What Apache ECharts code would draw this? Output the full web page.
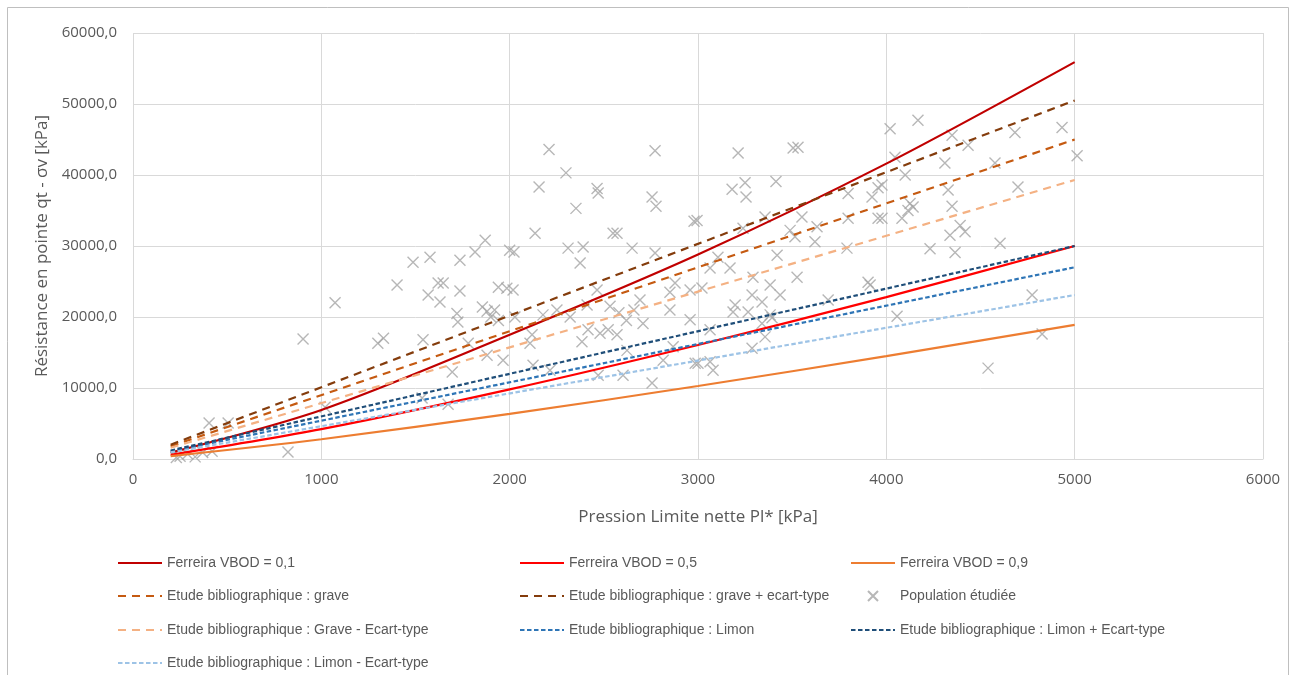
<!DOCTYPE html>
<html><head><meta charset="utf-8">
<script src="https://cdn.jsdelivr.net/npm/echarts@6/dist/echarts.min.js"></script>
<style>html,body{margin:0;padding:0;background:#fff}#c{width:1295px;height:675px}</style>
</head><body><div id="c"></div>
<script>
// Ferreira curves (x in kPa, y in kPa)
const ferX = [200, 1000, 2000, 3000, 4000, 5000];
const fer01 = [900, 6900, 17500, 28800, 41600, 55900];
const fer05 = [580, 4200, 9800, 16050, 22800, 30000];
const fer09 = [410, 2780, 6350, 10280, 14500, 18900];
// Bibliographic straight lines
const bibX = [200, 5000];
const grave = [1800, 45000];
const gravePlus = [2020, 50500];
const graveMinus = [1580, 39300];
const limon = [1080, 27000];
const limonPlus = [1200, 30000];
const limonMinus = [925, 23100];
// Population étudiée
const popX = [250,290,330,370,420,230,404,505,823,903,1073,1020,
1402,1620,1647,1736,1567,1630,1720,1725,1855,1880,1900,1920,1940,1300,1330,1540,1695,1880,1965,1780,1535,1673,1940,1985,
1870,1816,1736,1487,1577,2000,
2209,2772,2299,2156,2464,2470,2756,2777,2352,2979,2135,2549,2570,2023,2310,2390,2650,2374,2772,
2018,2464,2878,2851,2958,2692,2533,2580,2620,2660,2708,2411,2321,2177,2251,2028,2108,2119,2384,2416,2480,2523,2570,2851,2958,2623,2868,2815,2985,2124,2214,2470,2602,2756,
3213,3505,3531,3181,3250,3255,3414,2995,3356,3552,3797,3924,3956,3956,3797,3239,3489,3515,3632,3621,3791,3106,3420,3064,3170,3292,3526,3903,
3021,3287,3383,3436,3197,3340,3266,3186,3383,3393,3340,3064,3356,3287,3000,3064,3080,3691,3914,
4020,4168,4349,4434,4683,4933,5013,4046,4311,4577,4100,3977,3977,4328,4699,4126,4142,4083,4115,4349,4392,4418,4338,4232,4365,4604,
4057,4774,4827,4540];
const popY = [400,700,300,900,1100,200,5070,5070,1000,16900,22000,7300,
24500,24800,24800,23650,23100,22100,20500,19300,21400,20800,20000,21000,19500,16300,17000,16800,12250,14600,13900,16300,8600,7700,24200,24050,
30800,29150,28000,27700,28400,29400,
43600,43400,40300,38300,38100,37450,36900,35600,35300,33500,31800,31800,31800,29150,29700,29850,29700,27600,29000,
23800,23800,24800,23500,23800,22400,21500,20600,19500,21000,19100,21700,20000,20300,21000,20000,16300,17500,16500,18200,17700,18200,17500,21000,19600,15300,15800,13900,13500,13200,12500,11800,11800,10700,
43100,43800,43900,38000,38900,36900,39100,33600,34100,34100,37400,36900,38200,33900,33900,32500,32200,31300,32700,30600,29700,28400,28700,26900,26900,25600,25600,24900,
24100,23100,24500,23100,21700,22100,20700,20700,20300,19900,19100,18200,17200,15600,13500,13700,12500,22400,24500,
46500,47700,45600,44200,46000,46700,42700,42500,41700,41700,40000,38600,33900,37900,38300,36000,35500,33900,35000,35600,32900,32000,31500,29600,29100,30400,
20100,23100,17600,12800];

const names = ['Ferreira VBOD = 0,1','Ferreira VBOD = 0,5','Ferreira VBOD = 0,9',
'Etude bibliographique : grave','Etude bibliographique : grave + ecart-type','Population étudiée',
'Etude bibliographique : Grave - Ecart-type','Etude bibliographique : Limon','Etude bibliographique : Limon + Ecart-type',
'Etude bibliographique : Limon - Ecart-type'];

const zip = (xs, ys) => xs.map((x, i) => [x, ys[i]]);
const axisFont = 'Open Sans';
const txt = '#595959';
const longDash = [8, 6];
const shortDash = [4.5, 2.5];

function lineSeries(name, xs, ys, color, type, smooth) {
  return {
    name, type: 'line', data: zip(xs, ys), showSymbol: false, symbol: 'none',
    smooth: smooth ? 0.3 : false, z: 3,
    lineStyle: { color, width: 2.2, type }, itemStyle: { color }
  };
}

const xPath = 'path://M0,0 L10,10 M10,0 L0,10';

const series = [
  lineSeries(names[0], ferX, fer01, '#C00000', 'solid', true),
  lineSeries(names[1], ferX, fer05, '#FF0000', 'solid', true),
  lineSeries(names[2], ferX, fer09, '#ED7D31', 'solid', true),
  lineSeries(names[3], bibX, grave, '#C55A11', longDash),
  lineSeries(names[4], bibX, gravePlus, '#843C0C', longDash),
  { name: names[5], type: 'scatter', data: zip(popX, popY), symbol: xPath, symbolSize: 11, z: 2,
    itemStyle: { color: 'rgba(0,0,0,0)', borderColor: '#A5A5A5', borderWidth: 1.4 } },
  lineSeries(names[6], bibX, graveMinus, '#F4B183', longDash),
  lineSeries(names[7], bibX, limon, '#2E75B6', shortDash),
  lineSeries(names[8], bibX, limonPlus, '#1F4E79', shortDash),
  lineSeries(names[9], bibX, limonMinus, '#9DC3E6', shortDash)
];

const colLeft = [112, 514, 845];
const rowTop = [551, 584, 618, 651];
const legends = names.map((n, i) => {
  const isScatter = i === 5;
  return {
    data: [n], left: colLeft[i % 3] + (isScatter ? 17 : 0), top: rowTop[Math.floor(i / 3)],
    itemWidth: 44, itemHeight: isScatter ? 10 : 16, itemGap: 5,
    itemStyle: isScatter ? {} : { opacity: 0 },
    textStyle: { fontFamily: 'Liberation Sans', fontSize: 14, color: txt }
  };
});

const chart = echarts.init(document.getElementById('c'), null, { renderer: 'canvas' });
chart.setOption({
  backgroundColor: '#fff',
  animation: false,
  graphic: [{ type: 'rect', shape: { x: 7.5, y: 7.5, width: 1281, height: 680 },
    style: { fill: 'none', stroke: '#BFBFBF', lineWidth: 1 }, silent: true }],
  grid: { left: 133, right: 32, top: 33, bottom: 216 },
  legend: legends,
  xAxis: {
    type: 'value', min: 0, max: 6000, interval: 1000,
    name: 'Pression Limite nette Pl* [kPa]', nameLocation: 'middle', nameGap: 50,
    nameTextStyle: { fontFamily: axisFont, fontSize: 17, color: txt },
    axisLine: { show: true, lineStyle: { color: '#D9D9D9' } },
    axisTick: { show: false },
    axisLabel: { fontFamily: axisFont, fontSize: 15, color: txt, margin: 13, formatter: v => String(v) },
    splitLine: { show: true, lineStyle: { color: '#D9D9D9' } }
  },
  yAxis: {
    type: 'value', min: 0, max: 60000, interval: 10000,
    name: 'Résistance en pointe qt - σv [kPa]', nameLocation: 'middle', nameGap: 80,
    nameTextStyle: { fontFamily: axisFont, fontSize: 17, color: txt },
    axisLine: { show: false }, axisTick: { show: false },
    axisLabel: { fontFamily: axisFont, fontSize: 15, color: txt, margin: 16,
      formatter: v => v.toFixed(1).replace('.', ',') },
    splitLine: { show: true, lineStyle: { color: '#D9D9D9' } }
  },
  series
});
</script>
</body></html>
